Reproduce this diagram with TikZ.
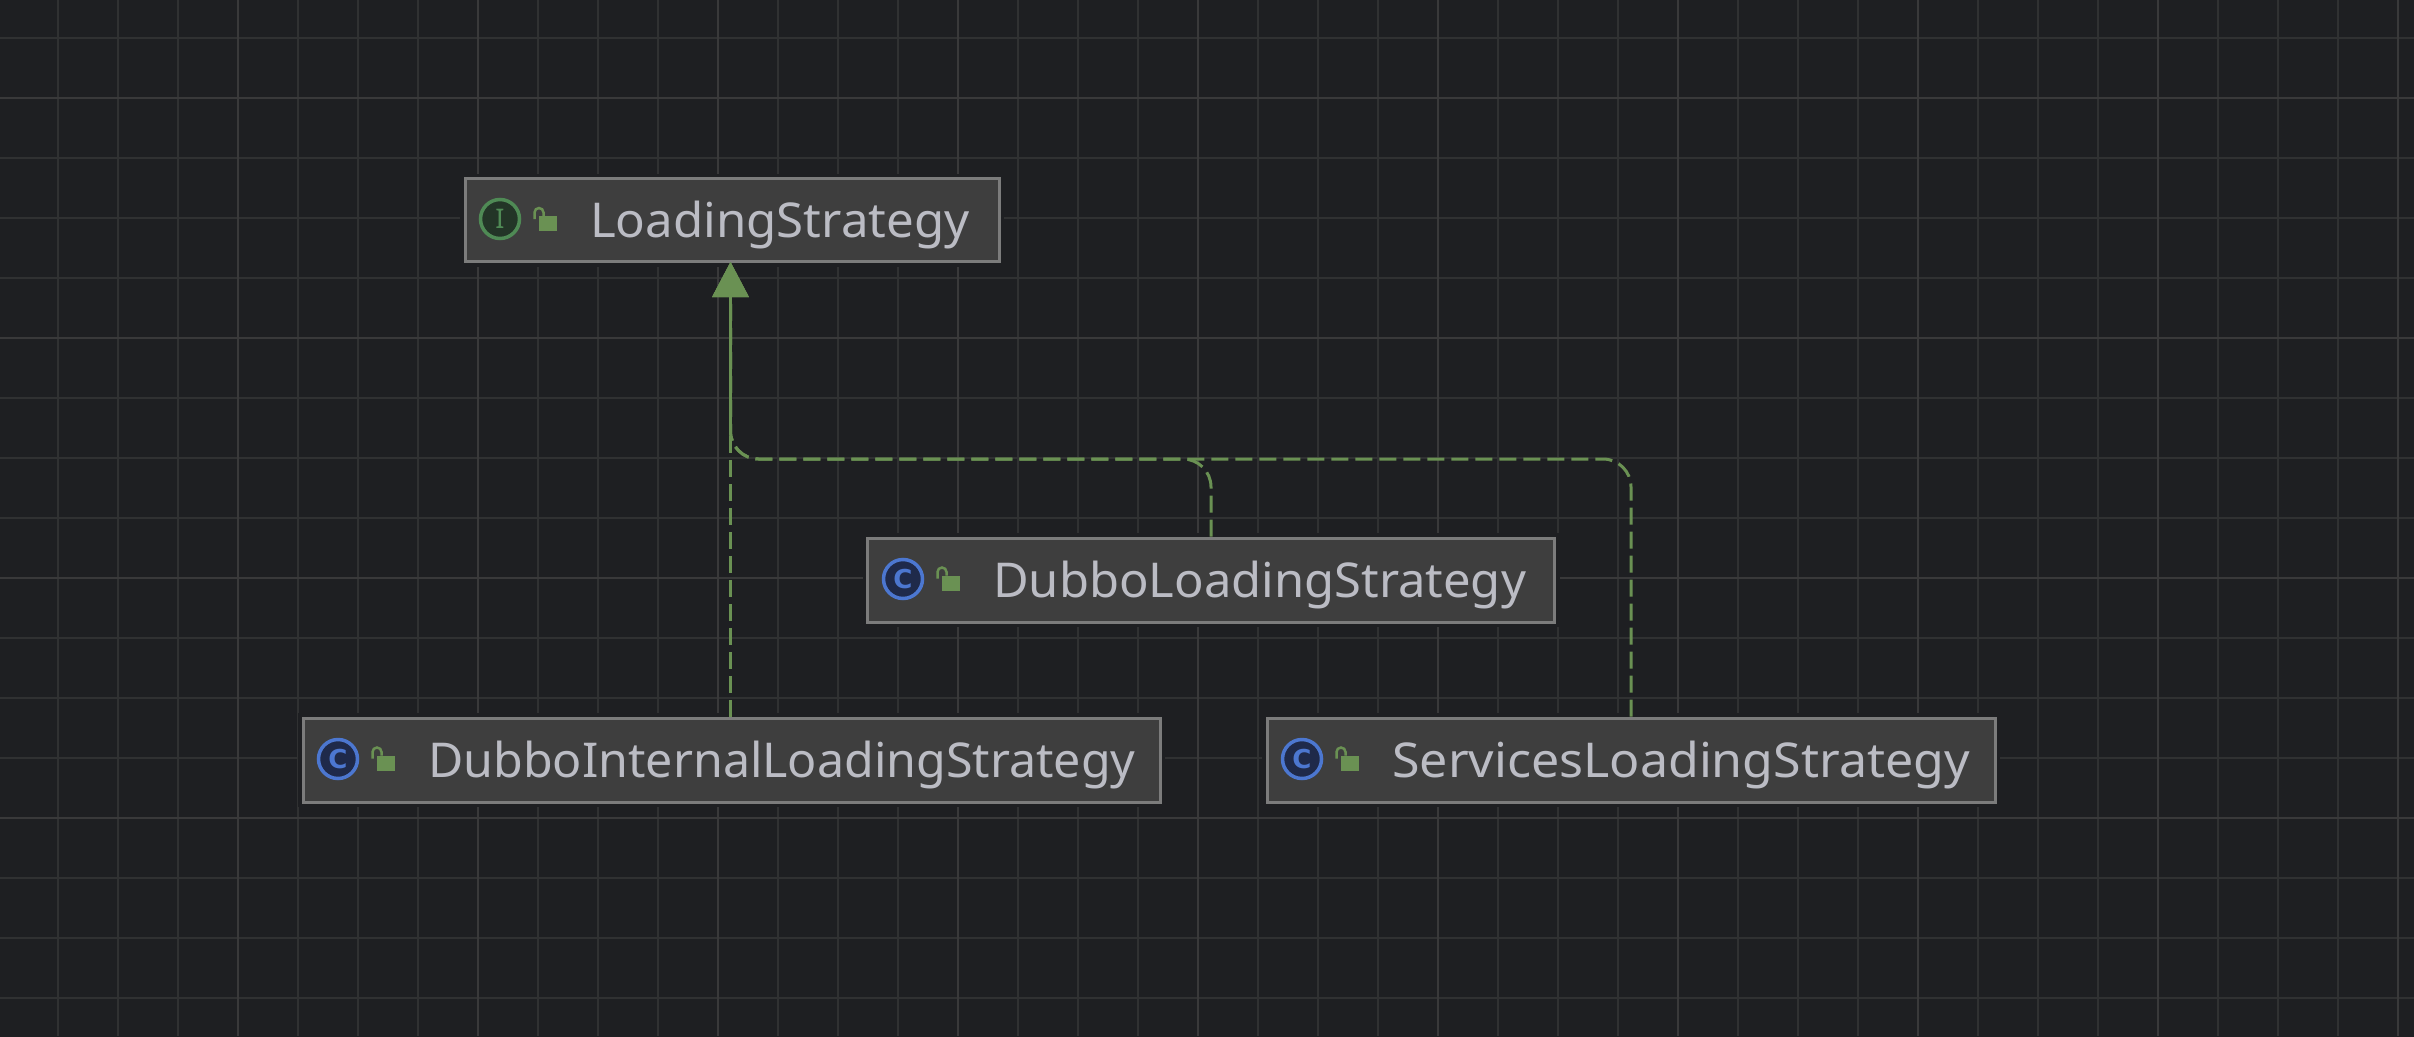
\documentclass[tikz,border=0pt]{standalone}
\usepackage{fontspec}
\setmainfont[FakeStretch=1.025]{Noto Sans}
\newfontfamily\markfont{DejaVu Sans}
\newfontfamily\ifacefont{Noto Sans}
\usetikzlibrary{arrows.meta}
\definecolor{bgc}{HTML}{1E1F22}
\definecolor{gridc}{HTML}{303132}
\definecolor{gridmajor}{HTML}{39393A}
\definecolor{boxc}{HTML}{3E3E3E}
\definecolor{edgec}{HTML}{7C7C7C}
\definecolor{textc}{HTML}{BBBCC4}
\definecolor{greenc}{HTML}{6A9153}
\definecolor{markgreen}{HTML}{4F8A55}
\definecolor{bluec}{HTML}{4C77D0}
\definecolor{bluein}{HTML}{1F2A4A}
\definecolor{greenin}{HTML}{233527}
\newcommand{\fitx}[2]{\scalebox{#1}[1]{#2}}
\tikzset{
  x=1pt,y=-1pt,
  gridline/.style={gridc,line width=2pt},
  gridbold/.style={gridmajor,line width=2pt},
  box/.style={draw=edgec,fill=boxc,line width=3pt,inner sep=0pt,minimum height=84pt,
    preaction={draw=bgc,line width=10pt}},
  title/.style={text=textc,font=\fontsize{48}{56}\selectfont,anchor=base west,inner sep=0pt},
  marker/.style={circle,minimum size=39pt,inner sep=0pt,line width=3.5pt},
  ifacemark/.style={marker,draw=markgreen,fill=greenin,text=markgreen,font=\ifacefont\bfseries\fontsize{27}{27}\selectfont},
  classmark/.style={marker,draw=bluec,fill=bluein,text=bluec,font=\markfont\bfseries\fontsize{26}{26}\selectfont},
  lockbody/.style={fill=greenc,draw=none,minimum width=18pt,minimum height=15pt,inner sep=0pt},
  shackle/.style={draw=greenc,line width=2.5pt,rounded corners=4.5pt},
  inherit/.style={draw=greenc,line width=3pt,dash pattern=on 17pt off 7pt,rounded corners=28pt,
    -{Triangle[length=35pt,width=36pt,fill=greenc,sep=0pt]}},
}
\newcommand{\vislock}[3]{%
  \node[lockbody,anchor=north west] (#3) at (#1+74,#2-4) {};
  \draw[shackle] (#1+69.5,#2-1) -- (#1+69.5,#2-12) -- (#1+78.5,#2-12) -- (#1+78.5,#2-4);
}
\begin{document}
\begin{tikzpicture}
\useasboundingbox (0,0) rectangle (2414,1036);
\fill[bgc] (-3,-3) rectangle (2417,1039);
\foreach \gx in {58,118,...,2398} \draw[gridline] (\gx,0) -- (\gx,1036);
\foreach \gy in {38,98,...,1020} \draw[gridline] (0,\gy) -- (2414,\gy);
\foreach \gx in {238,478,...,2398} \draw[gridbold] (\gx,0) -- (\gx,1036);
\foreach \gy in {98,338,...,1020} \draw[gridbold] (0,\gy) -- (2414,\gy);

\node[box,minimum width=534pt,minimum height=83pt] (ls) at (732,220) {};
\node[box,minimum width=687pt] (dls) at (1211,580) {};
\node[box,minimum width=857pt] (dils) at (731.5,760) {};
\node[box,minimum width=728pt] (sls) at (1631,760) {};

\node[ifacemark] (lsi) at (500,219) {I};
\vislock{465}{220}{lsl}
\node[title] (lst) at (590,237) {LoadingStrategy};

\node[classmark] (dlsi) at (903,579) {C};
\vislock{868}{579.5}{dlsl}
\node[title] (dlst) at (993,597) {\fitx{0.994}{DubboLoadingStrategy}};

\node[classmark] (dilsi) at (338,759) {C};
\vislock{303}{759.5}{dilsl}
\node[title] (dilst) at (428,777) {\fitx{0.983}{DubboInternalLoadingStrategy}};

\node[classmark] (slsi) at (1302,759) {C};
\vislock{1267}{759.5}{slsl}
\node[title] (slst) at (1392,777) {\fitx{1.019}{ServicesLoadingStrategy}};

\coordinate (bus) at (0,459);
\coordinate (tip) at (730.5,262);
\draw[inherit] (dils.north -| tip) -- (tip);
\draw[inherit] (dls.north) -- (dls.north |- bus) -- (tip |- bus) -- (tip);
\draw[inherit] (sls.north) -- (sls.north |- bus) -- (tip |- bus) -- (tip);
\end{tikzpicture}
\end{document}
